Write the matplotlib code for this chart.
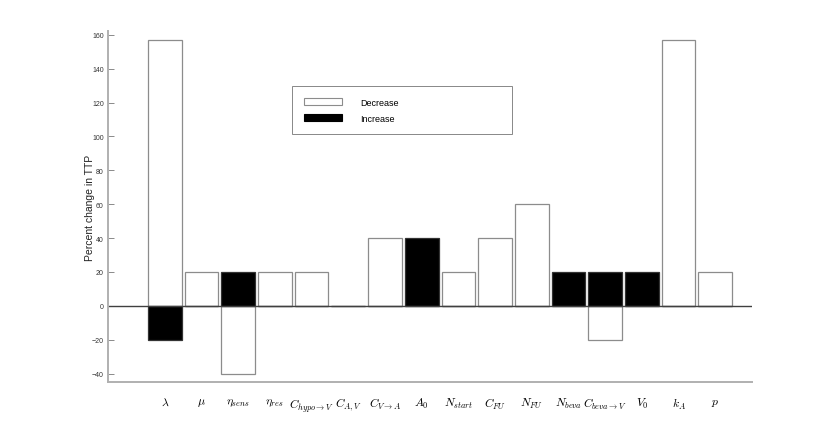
import matplotlib.pyplot as plt
import numpy as np
from matplotlib.patches import Patch

plt.rcParams["mathtext.fontset"] = "cm"
plt.rcParams["font.family"] = ["Liberation Sans", "DejaVu Sans"]

params = [
    r"$\lambda$", r"$\mu$", r"$\eta_{sens}$", r"$\eta_{res}$",
    r"$C_{hypo\to V}$", r"$C_{A,V}$", r"$C_{V\to A}$", r"$A_0$",
    r"$N_{start}$", r"$C_{FU}$", r"$N_{FU}$", r"$N_{beva}$",
    r"$C_{beva\to V}$", r"$V_0$", r"$k_A$", r"$p$",
]
# percent change in TTP when the parameter is decreased / increased
decrease = [157, 20, -40, 20, 20, 0, 40, 0, 20, 40, 60, 0, -20, 0, 157, 20]
increase = [-20, 0, 20, 0, 0, 0, 0, 40, 0, 0, 0, 20, 20, 20, 0, 0]

x = np.arange(1, len(params) + 1)

fig = plt.figure(figsize=(8.3, 4.31), dpi=100)
ax = fig.add_axes([0.130, 0.111, 0.776, 0.814])

ax.bar(x, decrease, width=0.92, color="white", edgecolor="#8c8c8c", linewidth=0.9)
ax.bar(x, increase, width=0.92, color="black", edgecolor="#333333", linewidth=0.9)
ax.axhline(0, color="#404040", linewidth=1.0)

ax.set_xlim(-0.55, 17.0)
ax.set_ylim(-45, 162)
ax.set_yticks(np.arange(-40, 161, 20))
ax.set_xticks(x)
ax.set_xticklabels(params, fontsize=8.5)
ax.tick_params(axis="x", length=0, pad=10)
ax.tick_params(axis="y", direction="in", length=4.5, width=0.6, color="#777777",
               labelsize=5, labelcolor="#333333", pad=3)

for side in ["top", "right"]:
    ax.spines[side].set_visible(False)
for side in ["left", "bottom"]:
    ax.spines[side].set_color("#b0b0b0")
    ax.spines[side].set_linewidth(1.4)

ax.set_ylabel("Percent change in TTP", fontsize=7.5, color="#222222", labelpad=-2.5)

handles = [
    Patch(facecolor="white", edgecolor="#8c8c8c", linewidth=0.8, label="Decrease"),
    Patch(facecolor="black", edgecolor="black", linewidth=0.8, label="Increase"),
]
leg = ax.legend(handles=handles, loc="upper left",
                bbox_to_anchor=(292 / 830, 1 - 87 / 431, 220 / 830, 0.0),
                bbox_transform=fig.transFigure, mode="expand",
                fontsize=6.5, handlelength=4.2, handleheight=0.8,
                handletextpad=2.1, borderpad=1.3, borderaxespad=0,
                labelspacing=0.75, fancybox=False, framealpha=1)
leg.get_frame().set_edgecolor("#888888")
leg.get_frame().set_linewidth(0.7)

fig.savefig("out.png", dpi=100)
